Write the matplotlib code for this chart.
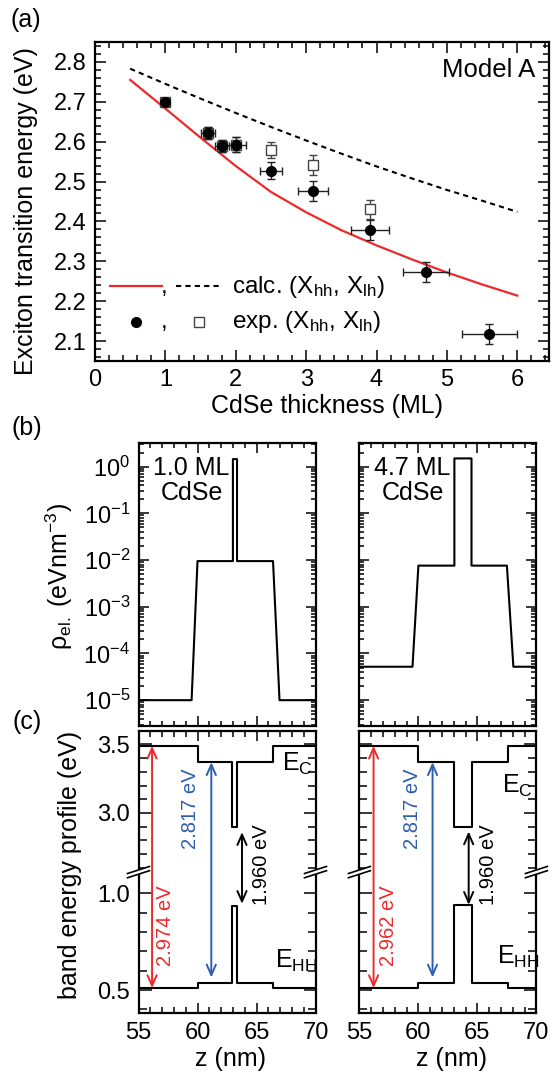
import numpy as np
import matplotlib
matplotlib.use('Agg')
import matplotlib.pyplot as plt
from matplotlib.ticker import MultipleLocator, FixedLocator, LogLocator, NullFormatter, FormatStrFormatter, LogFormatterSciNotation
from matplotlib.lines import Line2D

plt.rcParams['font.family'] = ['Liberation Sans', 'DejaVu Sans']
plt.rcParams['mathtext.fontset'] = 'custom'
plt.rcParams['mathtext.rm'] = 'Liberation Sans'
plt.rcParams['mathtext.it'] = 'Liberation Sans:italic'
plt.rcParams['axes.unicode_minus'] = False

RED = '#ec2a2c'
BLUE = '#2c5fae'

# ---------------- data: panel (a) ----------------
calc_x = [0.5, 1.0, 1.5, 2.0, 2.5, 3.0, 3.5, 4.0, 4.5, 5.0, 5.5, 6.0]
calc_hh = [2.755, 2.683, 2.610, 2.539, 2.474, 2.423, 2.378, 2.340, 2.305, 2.272, 2.242, 2.214]
calc_lh = [2.783, 2.745, 2.708, 2.672, 2.637, 2.603, 2.570, 2.538, 2.508, 2.479, 2.452, 2.424]

exp_hh_x = [1.0, 1.6, 1.8, 2.0, 2.5, 3.1, 3.9, 4.7, 5.6]
exp_hh_y = [2.700, 2.622, 2.588, 2.592, 2.527, 2.477, 2.379, 2.274, 2.117]
exp_hh_xerr = [0.05, 0.10, 0.10, 0.14, 0.16, 0.21, 0.27, 0.33, 0.39]
exp_hh_yerr = [0.008, 0.015, 0.015, 0.019, 0.021, 0.025, 0.025, 0.025, 0.025]

exp_lh_x = [1.0, 1.6, 1.8, 2.0, 2.5, 3.1, 3.9]
exp_lh_y = [2.700, 2.622, 2.588, 2.592, 2.578, 2.541, 2.430]
exp_lh_yerr = [0.008, 0.015, 0.015, 0.019, 0.020, 0.025, 0.025]

x_ticks_a = [0, 1, 2, 3, 4, 5, 6]
y_ticks_a = [2.1, 2.2, 2.3, 2.4, 2.5, 2.6, 2.7, 2.8]

# ---------------- data: panel (b) ----------------
rho1_z = [55, 59.5, 60.0, 63.0, 63.0, 63.35, 63.35, 66.4, 66.95, 70]
rho1_v = [1e-5, 1e-5, 9.5e-3, 9.5e-3, 1.45, 1.45, 9.5e-3, 9.5e-3, 1e-5, 1e-5]
rho2_z = [55, 59.5, 60.0, 63.05, 63.05, 64.5, 64.5, 67.5, 68.05, 70]
rho2_v = [5.2e-5, 5.2e-5, 7.6e-3, 7.6e-3, 1.5, 1.5, 7.6e-3, 7.6e-3, 5.2e-5, 5.2e-5]
rho_ticks = [1e-5, 1e-4, 1e-3, 1e-2, 1e-1, 1e0]
z_ticks = [55, 60, 65, 70]

# ---------------- data: panel (c) ----------------
band1_z = [55, 60, 62.94, 63.32, 66.41, 70]
band1_ec = [3.49, 3.37, 2.90, 3.37, 3.49, 3.49]
band1_ehh = [0.51, 0.535, 0.935, 0.535, 0.51, 0.51]
band2_z = [55, 60, 63.05, 64.55, 67.6, 70]
band2_ec = [3.49, 3.37, 2.90, 3.37, 3.49, 3.49]
band2_ehh = [0.51, 0.535, 0.94, 0.535, 0.51, 0.51]
e_ticks = [0.5, 1.0, 3.0, 3.5]

# arrows: (x, y_low, y_high)
arr1_red = (56.15, 0.51, 3.49)
arr1_blue = (61.17, 0.565, 3.37)
arr1_blk = (63.77, 0.945, 2.86)
arr2_red = (56.2, 0.51, 3.49)
arr2_blue = (61.2, 0.565, 3.37)
arr2_blk = (64.26, 0.94, 2.865)
lab1 = ['2.974 eV', '2.817 eV', '1.960 eV']
lab2 = ['2.962 eV', '2.817 eV', '1.960 eV']

W, H = 554, 1072
fig = plt.figure(figsize=(W / 100, H / 100), dpi=100)


def rect(l, t, r, b):
    return [l / W, 1 - b / H, (r - l) / W, (b - t) / H]


def style(ax, major_len=7, minor_len=4):
    ax.tick_params(which='both', direction='in', top=True, right=True, width=1.1,
                   labelsize=17, pad=6)
    ax.tick_params(which='major', length=major_len)
    ax.tick_params(which='minor', length=minor_len)
    for s in ax.spines.values():
        s.set_linewidth(1.6)


# ================= panel (a) =================
axa = fig.add_axes(rect(95, 42, 549, 361))
axa.plot(calc_x, calc_hh, color=RED, lw=1.6, zorder=2)
axa.plot(calc_x, calc_lh, color='k', lw=1.5, dashes=(2.5, 2), zorder=2)
axa.errorbar(exp_lh_x, exp_lh_y, yerr=exp_lh_yerr, fmt='s', ms=6.5, mfc='white',
             mec='#444444', mew=1.0, ecolor='#444444', elinewidth=1.0, capsize=3,
             capthick=1.0, zorder=3)
axa.errorbar(exp_hh_x, exp_hh_y, xerr=exp_hh_xerr, yerr=exp_hh_yerr, fmt='o', ms=7,
             color='k', ecolor='#222222', elinewidth=1.0, capsize=3, capthick=1.0, zorder=4)
axa.set_xlim(0, 6.45)
axa.set_ylim(2.05, 2.85)
axa.xaxis.set_major_locator(FixedLocator(x_ticks_a))
axa.xaxis.set_minor_locator(MultipleLocator(0.2))
axa.yaxis.set_major_locator(FixedLocator(y_ticks_a))
axa.yaxis.set_minor_locator(MultipleLocator(0.02))
axa.yaxis.set_major_formatter(FormatStrFormatter('%.1f'))
style(axa, 8, 4.5)
axa.set_xlabel('CdSe thickness (ML)', fontsize=18)
axa.xaxis.set_label_coords(0.51, -0.105)
axa.xaxis.label.set_va('top')
axa.set_ylabel('Exciton transition energy (eV)', fontsize=18)
axa.yaxis.set_label_coords(-0.125, 0.47)
axa.text(0.969, 0.912, 'Model A', transform=axa.transAxes, ha='right', va='center',
         fontsize=18.5)

# legend drawn manually
axa.add_line(Line2D([0.034, 0.147], [0.235, 0.235], transform=axa.transAxes, color=RED, lw=1.6))
axa.add_line(Line2D([0.178, 0.275], [0.235, 0.235], transform=axa.transAxes, color='k', lw=1.5,
                    dashes=(2.5, 2)))
axa.text(0.153, 0.213, ',', transform=axa.transAxes, ha='center', va='baseline', fontsize=17.5)
axa.text(0.302, 0.213, 'calc. (X$_\\mathregular{hh}$, X$_\\mathregular{lh}$)',
         transform=axa.transAxes, ha='left', va='baseline', fontsize=17.5)
axa.add_line(Line2D([0.091], [0.123], transform=axa.transAxes, marker='o', ms=7, color='k', ls='none'))
axa.add_line(Line2D([0.228], [0.123], transform=axa.transAxes, marker='s', ms=6.5, mfc='white',
                    mec='#444444', mew=1.0, ls='none'))
axa.text(0.153, 0.103, ',', transform=axa.transAxes, ha='center', va='baseline', fontsize=17.5)
axa.text(0.302, 0.103, 'exp. (X$_\\mathregular{hh}$, X$_\\mathregular{lh}$)',
         transform=axa.transAxes, ha='left', va='baseline', fontsize=17.5)

# ================= panel (b) =================
axb1 = fig.add_axes(rect(138.5, 443.3, 315.5, 726))
axb2 = fig.add_axes(rect(359.4, 443.3, 536.4, 726))
for ax, z, v, txt in [(axb1, rho1_z, rho1_v, '1.0 ML\nCdSe'), (axb2, rho2_z, rho2_v, '4.7 ML\nCdSe')]:
    ax.plot(z, v, color='k', lw=1.5)
    ax.set_yscale('log')
    ax.set_xlim(55, 70)
    ax.set_ylim(2.8e-6, 3.16)
    ax.yaxis.set_major_locator(FixedLocator(rho_ticks))
    ax.yaxis.set_major_formatter(LogFormatterSciNotation())
    ax.yaxis.set_minor_locator(LogLocator(base=10, subs=np.arange(2, 10), numticks=20))
    ax.yaxis.set_minor_formatter(NullFormatter())
    ax.xaxis.set_major_locator(FixedLocator(z_ticks))
    ax.xaxis.set_minor_locator(MultipleLocator(1))
    ax.xaxis.set_major_formatter(NullFormatter())
    style(ax, 7, 3.5)
    ax.tick_params(labelbottom=False)
    ax.text(0.30, 0.868, txt, transform=ax.transAxes, ha='center', va='center',
            multialignment='center', fontsize=18, linespacing=1.05)
axb2.yaxis.set_major_formatter(NullFormatter())
axb2.tick_params(labelleft=False)
axb1.set_ylabel('ρ$_\\mathregular{el.}$ (eVnm$^\\mathregular{-3}$)', fontsize=18)
axb1.yaxis.set_label_coords(-0.36, 0.528)

# ================= panel (c) =================
ylo, ybrk_lo, ybrk_hi, yhi = 0.38, 1.108, 2.57, 3.6
s_lo, s_hi = 195.0, 138.0
yb = np.array([-10.0, ylo, ybrk_lo, ybrk_hi, yhi, 20.0])
f1 = (ybrk_lo - ylo) * s_lo
f2 = f1 + 0.3
f3 = f2 + (yhi - ybrk_hi) * s_hi
fb = np.array([-(ylo + 10.0) * s_lo, 0.0, f1, f2, f3, f3 + (20.0 - yhi) * s_hi])


def fwd(y):
    return np.interp(np.asarray(y, dtype=float), yb, fb)


def inv(f):
    return np.interp(np.asarray(f, dtype=float), fb, yb)


axc1 = fig.add_axes(rect(138.5, 730.7, 315.5, 1013.3))
axc2 = fig.add_axes(rect(359.4, 730.7, 536.4, 1013.3))
brk_frac = (fwd(1.8) - fwd(ylo)) / (fwd(yhi) - fwd(ylo))

for ax, z, ec, ehh, arrs, labs, labpos, epos in [
        (axc1, band1_z, band1_ec, band1_ehh, (arr1_red, arr1_blue, arr1_blk), lab1,
         [(57.33, 0.83), (59.43, 3.03), (65.42, 2.62)], [(67.13, 3.306), (66.57, 0.615)]),
        (axc2, band2_z, band2_ec, band2_ehh, (arr2_red, arr2_blue, arr2_blk), lab2,
         [(57.48, 0.83), (59.52, 3.03), (65.96, 2.62)], [(67.07, 3.15), (66.65, 0.636)])]:
    ax.set_yscale('function', functions=(fwd, inv))
    ax.plot(z, ec, color='k', lw=1.5, drawstyle='steps-post')
    ax.plot(z, ehh, color='k', lw=1.5, drawstyle='steps-post')
    ax.set_xlim(55, 70)
    ax.set_ylim(ylo, yhi)
    ax.yaxis.set_major_locator(FixedLocator(e_ticks))
    ax.yaxis.set_major_formatter(FormatStrFormatter('%.1f'))
    ax.yaxis.set_minor_locator(FixedLocator([0.4, 0.6, 0.7, 0.8, 0.9, 2.6, 2.7, 2.8, 2.9,
                                             3.1, 3.2, 3.3, 3.4]))
    ax.yaxis.set_minor_formatter(NullFormatter())
    ax.xaxis.set_major_locator(FixedLocator(z_ticks))
    ax.xaxis.set_minor_locator(MultipleLocator(1))
    style(ax, 9, 6)
    ax.tick_params(axis='x', which='minor', length=4.5)
    ax.tick_params(axis='x', which='major', length=7)
    for (x, y0, y1), col in zip(arrs, (RED, BLUE, 'k')):
        ax.annotate('', xy=(x, y1), xytext=(x, y0),
                    arrowprops=dict(arrowstyle='<->,head_length=0.5,head_width=0.22',
                                    color=col, lw=1.4, shrinkA=0, shrinkB=0,
                                    mutation_scale=15))
    for (tx, ty), lab, col in zip(labpos, labs, (RED, BLUE, 'k')):
        ax.text(tx, ty, lab, rotation=90, ha='center', va='center', color=col, fontsize=14.5)
    ax.text(epos[0][0], epos[0][1], 'E$_\\mathregular{C}$', fontsize=18, va='baseline', ha='left')
    ax.text(epos[1][0], epos[1][1], 'E$_\\mathregular{HH}$', fontsize=18, va='baseline', ha='left')
    ax.set_xlabel('z (nm)', fontsize=18)
    ax.xaxis.set_label_coords(0.52, -0.118)
    ax.xaxis.label.set_va('top')
    # axis break marks
    dx, dy, g = 0.062, 0.0125, 0.0075
    for x0 in (0.0, 1.0):
        ax.add_line(Line2D([x0 - 0.045, x0 + 0.045], [brk_frac - 0.009, brk_frac + 0.009],
                           transform=ax.transAxes, color='white', lw=3.5, clip_on=False, zorder=6))
        for off in (-g, g):
            ax.add_line(Line2D([x0 - dx, x0 + dx], [brk_frac + off - dy, brk_frac + off + dy],
                               transform=ax.transAxes, color='k', lw=1.2, clip_on=False, zorder=7))
axc2.yaxis.set_major_formatter(NullFormatter())
axc2.tick_params(labelleft=False)
axc1.set_ylabel('band energy profile (eV)', fontsize=18)
axc1.yaxis.set_label_coords(-0.32, 0.525)

# panel labels
fig.text(26 / W, 1 - 19.5 / H, '(a)', ha='center', va='center', fontsize=18)
fig.text(27 / W, 1 - 428 / H, '(b)', ha='center', va='center', fontsize=18)
fig.text(27 / W, 1 - 722 / H, '(c)', ha='center', va='center', fontsize=18)

fig.savefig('out.png', dpi=100)
